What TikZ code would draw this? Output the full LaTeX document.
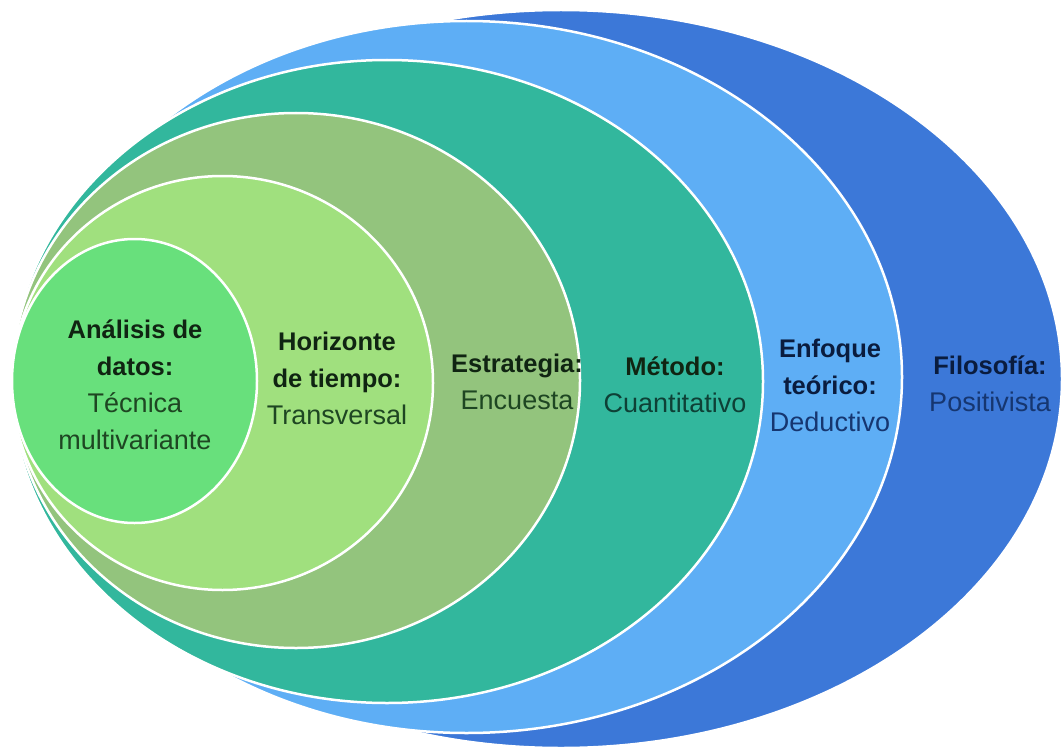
\documentclass[tikz,border=0pt]{standalone}
\usepackage{fontspec}
\setmainfont{Liberation Sans}

\definecolor{filoblue}{RGB}{60,120,216}
\definecolor{enfoqueblue}{RGB}{94,174,245}
\definecolor{metodoteal}{RGB}{50,183,157}
\definecolor{estraolive}{RGB}{147,196,125}
\definecolor{horizgreen}{RGB}{160,224,126}
\definecolor{analisisgreen}{RGB}{104,224,124}
\definecolor{greenhead}{RGB}{16,36,18}
\definecolor{greentext}{RGB}{30,70,34}
\definecolor{tealtext}{RGB}{14,64,54}
\definecolor{bluehead}{RGB}{10,28,62}
\definecolor{bluetext}{RGB}{22,54,112}

\newcommand{\layerhead}[1]{{\fontsize{25.5}{37}\selectfont\bfseries #1}}

\begin{document}
\begin{tikzpicture}[x=1pt, y=-1pt, font=\fontsize{27}{37}\selectfont,
  layer/.style={draw=white, line width=2.5pt},
  label/.style={align=center, inner sep=0pt}]
  \useasboundingbox (0,0) rectangle (1062,749);

  % Layers of the onion, outermost first
  \foreach \cx/\cy/\rx/\ry/\col in {561/379/501/369/filoblue,
      466.5/377/435.5/356/enfoqueblue, 387/381.5/376/321.5/metodoteal,
      296/380.5/284/267.5/estraolive, 222.5/383/210.5/207/horizgreen,
      134.5/381/122.5/142/analisisgreen} {
    \filldraw[fill=\col, layer] (\cx,\cy) ellipse [x radius=\rx pt, y radius=\ry pt];
  }

  % Labels, innermost first
  \node[label, text=greentext] (analisis) at (135,385)
    {\textcolor{greenhead}{\layerhead{Análisis de}}\\\textcolor{greenhead}{\layerhead{datos:}}\\Técnica\\multivariante};
  \node[label, text=greentext] (horizonte) at (337,378)
    {\textcolor{greenhead}{\layerhead{Horizonte}}\\\textcolor{greenhead}{\layerhead{de tiempo:}}\\Transversal};
  \node[label, text=greentext] (estrategia) at (517,382)
    {\textcolor{greenhead}{\layerhead{Estrategia:}}\\Encuesta};
  \node[label, text=tealtext] (metodo) at (675,385)
    {\textcolor{greenhead}{\layerhead{Método:}}\\Cuantitativo};
  \node[label, text=bluetext] (enfoque) at (830,385)
    {\textcolor{bluehead}{\layerhead{Enfoque}}\\\textcolor{bluehead}{\layerhead{teórico:}}\\Deductivo};
  \node[label, text=bluetext] (filosofia) at (990,384)
    {\textcolor{bluehead}{\layerhead{Filosofía:}}\\Positivista};
\end{tikzpicture}
\end{document}
